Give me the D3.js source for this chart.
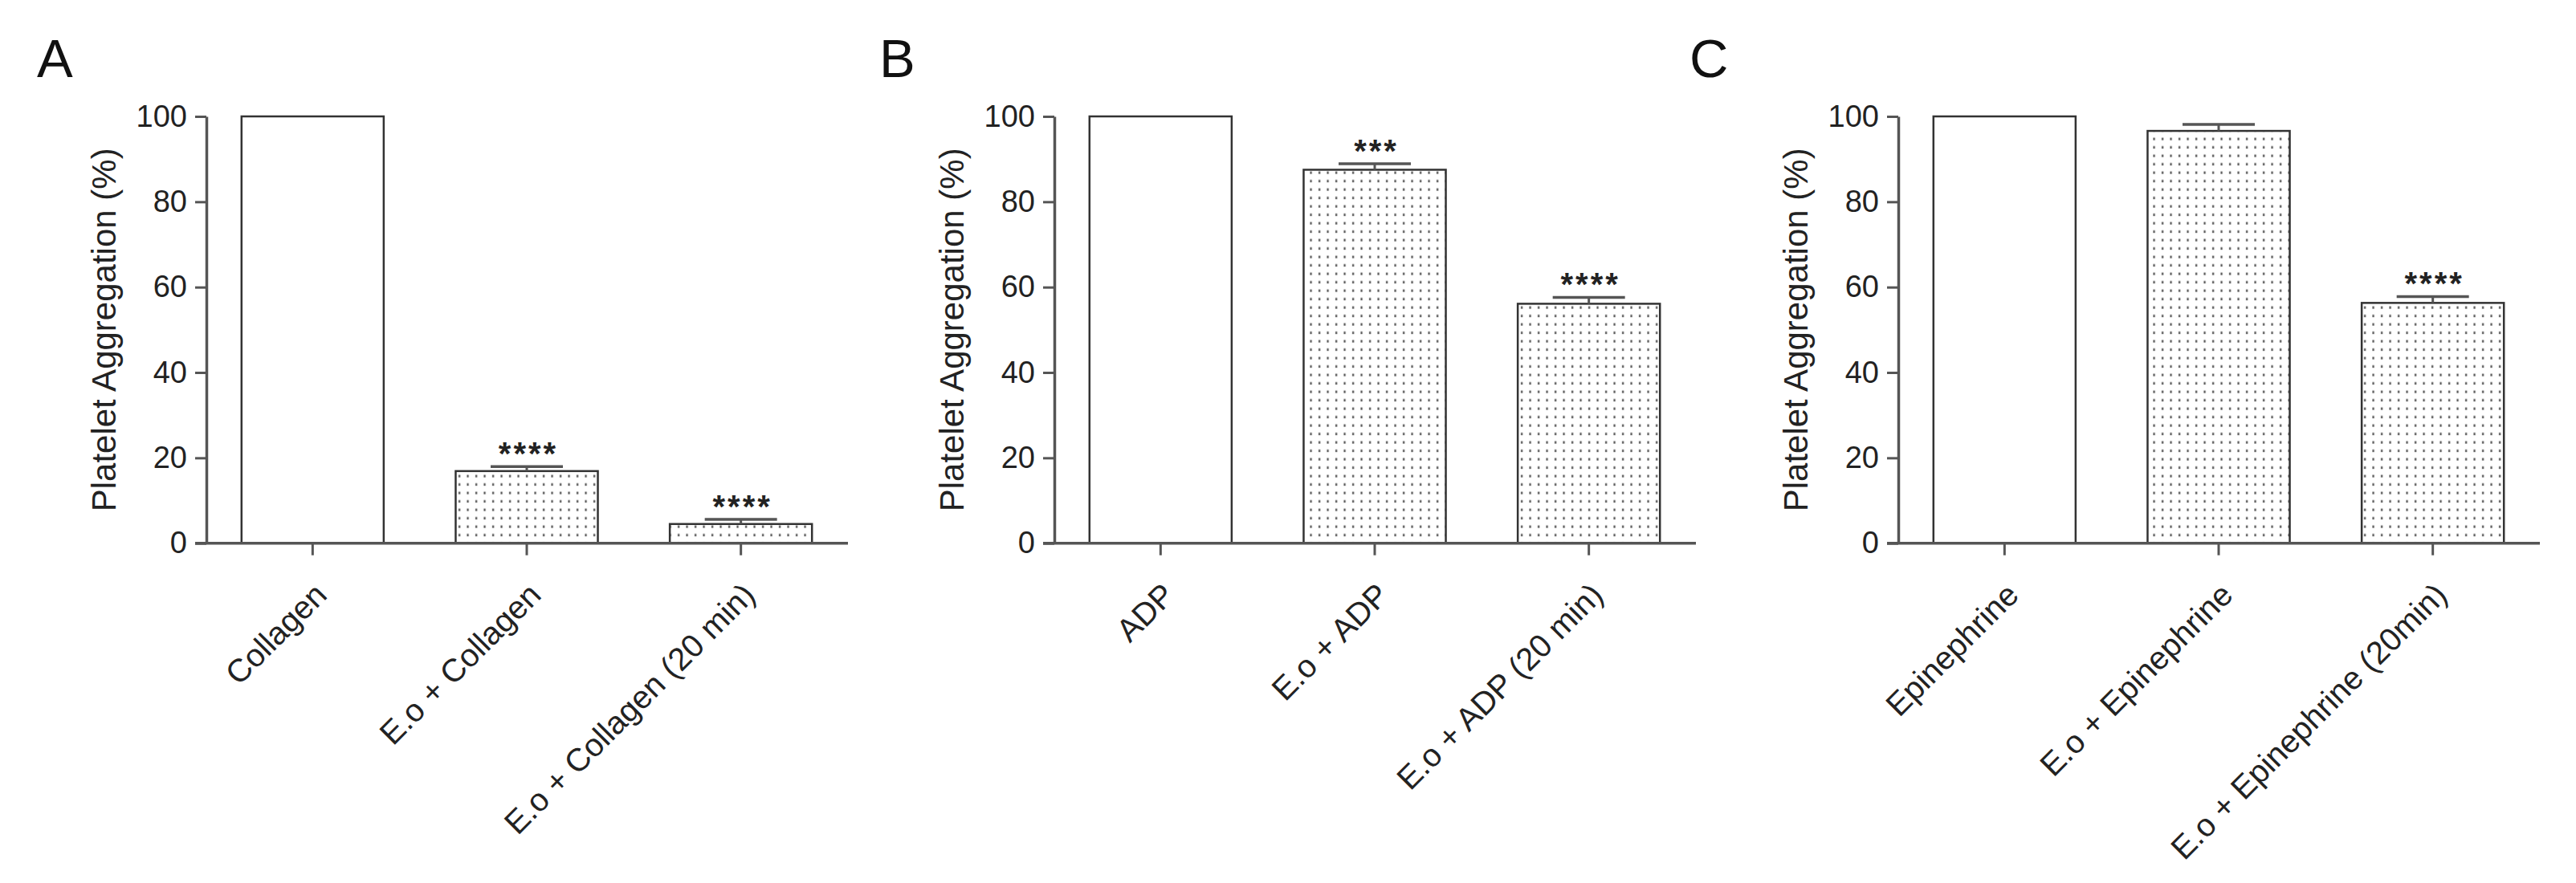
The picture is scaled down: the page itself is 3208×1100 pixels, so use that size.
<!DOCTYPE html>
<html>
<head>
<meta charset="utf-8">
<script src="https://cdn.jsdelivr.net/npm/d3@7"></script>
<style>
  html, body { margin: 0; padding: 0; background: #fff; }
  svg { display: block; font-family: "Liberation Sans", Arial, sans-serif; }
</style>
</head>
<body>
<script>
// ---------- data ----------
const panelLetters = ["A", "B", "C"];

const categoriesA = ["Collagen", "E.o + Collagen", "E.o + Collagen (20 min)"];
const valuesA = [100, 16.9, 4.5];
const semA = [0, 1.05, 1.1];
const starsA = ["", "****", "****"];

const categoriesB = ["ADP", "E.o + ADP", "E.o + ADP (20 min)"];
const valuesB = [100, 87.5, 56.1];
const semB = [0, 1.4, 1.5];
const starsB = ["", "***", "****"];

const categoriesC = ["Epinephrine", "E.o + Epinephrine", "E.o + Epinephrine (20min)"];
const valuesC = [100, 96.6, 56.3];
const semC = [0, 1.5, 1.5];
const starsC = ["", "", "****"];

const fillTypes = ["plain", "dotted", "dotted"];
const yTicks = [0, 20, 40, 60, 80, 100];
const yTitle = "Platelet Aggregation (%)";

// ---------- layout ----------
const W = 3208, H = 1100;
const axisX = [257, 1313, 2364];
const letterX = [46, 1095, 2104];
const plotWidth = 800;

const svg = d3.select("body").append("svg").attr("width", W).attr("height", H);
svg.append("rect").attr("width", W).attr("height", H).attr("fill", "#fff");

const defs = svg.append("defs");
const pat = defs.append("pattern").attr("id", "dots")
  .attr("patternUnits", "userSpaceOnUse").attr("width", 10.5).attr("height", 10.5);
pat.append("rect").attr("width", 10.5).attr("height", 10.5).attr("fill", "#fff");
pat.append("rect").attr("x", 4).attr("y", 3.5).attr("width", 2.2).attr("height", 3.2).attr("fill", "#555");

const y = d3.scaleLinear().domain([0, 100]).range([676.7, 145]);

const panels = [
  { cats: categoriesA, vals: valuesA, sem: semA, stars: starsA },
  { cats: categoriesB, vals: valuesB, sem: semB, stars: starsB },
  { cats: categoriesC, vals: valuesC, sem: semC, stars: starsC }
];

panels.forEach((p, pi) => {
  const x0 = axisX[pi];
  const g = svg.append("g");
  const x = d3.scaleBand().domain(p.cats).range([x0 - 1, x0 + plotWidth - 1])
    .paddingInner(0.336).paddingOuter(0.168);
  const data = p.cats.map((c, i) => ({ c, v: p.vals[i], s: p.sem[i], st: p.stars[i], f: fillTypes[i] }));

  // panel letter
  svg.append("text").attr("x", letterX[pi]).attr("y", 96)
    .attr("font-size", 67).attr("fill", "#111").text(panelLetters[pi]);

  // bars
  g.selectAll("rect.bar").data(data).join("rect").attr("class", "bar")
    .attr("x", d => x(d.c)).attr("y", d => y(d.v))
    .attr("width", x.bandwidth()).attr("height", d => y(0) - y(d.v))
    .attr("fill", d => d.f === "dotted" ? "url(#dots)" : "#fff")
    .attr("stroke", "#333").attr("stroke-width", 2.5);

  // error bars
  const eb = g.selectAll("g.err").data(data.filter(d => d.s > 0)).join("g").attr("class", "err");
  eb.append("line")
    .attr("x1", d => x(d.c) + x.bandwidth() / 2).attr("x2", d => x(d.c) + x.bandwidth() / 2)
    .attr("y1", d => y(d.v)).attr("y2", d => y(d.v + d.s))
    .attr("stroke", "#555").attr("stroke-width", 3);
  eb.append("line")
    .attr("x1", d => x(d.c) + x.bandwidth() / 2 - 45).attr("x2", d => x(d.c) + x.bandwidth() / 2 + 45)
    .attr("y1", d => y(d.v + d.s)).attr("y2", d => y(d.v + d.s))
    .attr("stroke", "#555").attr("stroke-width", 3.5);

  // significance stars
  g.selectAll("text.star").data(data.filter(d => d.st)).join("text").attr("class", "star")
    .attr("x", d => x(d.c) + x.bandwidth() / 2 + 2)
    .attr("y", d => y(d.v + d.s) - 2)
    .attr("text-anchor", "middle").attr("font-size", 40).attr("font-weight", "bold")
    .attr("letter-spacing", 3).attr("fill", "#222").text(d => d.st);

  // y axis
  const ya = g.append("g").attr("transform", `translate(${x0},0)`)
    .call(d3.axisLeft(y).tickValues(yTicks).tickSize(14).tickSizeOuter(0).tickPadding(10));
  ya.select(".domain").attr("stroke", "#555").attr("stroke-width", 3.5);
  ya.selectAll(".tick line").attr("stroke", "#555").attr("stroke-width", 3);
  ya.selectAll(".tick text").attr("font-size", 38).attr("fill", "#222")
    .attr("font-family", "'Liberation Sans', Arial, sans-serif");

  // x axis
  const xa = g.append("g").attr("transform", `translate(0,${y(0)})`)
    .call(d3.axisBottom(x).tickSize(15).tickSizeOuter(0));
  xa.select(".domain").remove();
  xa.insert("line", ":first-child").attr("x1", x0 - 14).attr("x2", x0 + plotWidth - 1)
    .attr("y1", 0).attr("y2", 0).attr("stroke", "#555").attr("stroke-width", 3.5);
  xa.selectAll(".tick line").attr("stroke", "#555").attr("stroke-width", 3);
  xa.selectAll(".tick text")
    .attr("x", 0).attr("y", 0).attr("dy", "0.35em")
    .attr("transform", "translate(10,57) rotate(-45)")
    .attr("text-anchor", "end").attr("font-size", 40).attr("fill", "#222")
    .attr("font-family", "'Liberation Sans', Arial, sans-serif");

  // y title
  svg.append("text")
    .attr("transform", `translate(${x0 - 126},${(y(0) + y(100)) / 2}) rotate(-90)`)
    .attr("dy", "0.3em").attr("text-anchor", "middle")
    .attr("font-size", 42).attr("fill", "#222").text(yTitle);
});
</script>
</body>
</html>
